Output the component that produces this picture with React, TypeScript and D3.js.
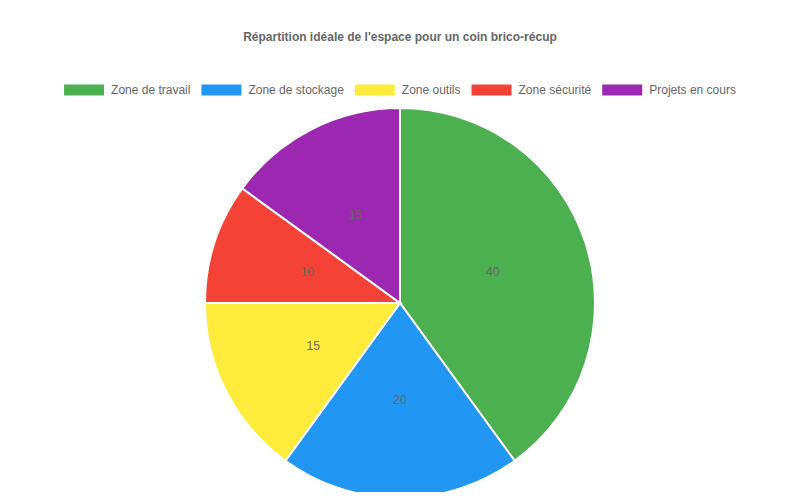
import * as React from 'react';
import * as d3 from 'd3';

const categories = ['Zone de travail', 'Zone de stockage', 'Zone outils', 'Zone sécurité', 'Projets en cours'];
const values = [40, 20, 15, 10, 15];
const colors = ['#4CAF50', '#2196F3', '#FFEB3B', '#F44336', '#9C27B0'];
const title = "Répartition idéale de l'espace pour un coin brico-récup";

const FONT = '"Liberation Sans", Arial, Helvetica, sans-serif';

function measure(text: string, font: string): number {
  const canvas = document.createElement('canvas');
  const ctx = canvas.getContext('2d');
  if (!ctx) return text.length * 6;
  ctx.font = font;
  return ctx.measureText(text).width;
}

export default function App() {
  const width = 800;
  const height = 500;
  const cx = 400;
  const cy = 303;
  const radius = 195;

  const pie = d3.pie<number>().sort(null).value((d) => d);
  const arcs = pie(values);
  const arc = d3.arc<d3.PieArcDatum<number>>().innerRadius(0).outerRadius(radius);

  // legend layout, chart.js style: box 40 wide, text after it
  const boxW = 40;
  const textOff = 7;
  const items = categories.map((c) => boxW + textOff + measure(c, `12px ${FONT}`));
  const gap = 11;
  const total = d3.sum(items) + gap * (items.length - 1);
  let lx = width / 2 - total / 2;
  const legendX = items.map((w) => {
    const x = lx;
    lx += w + gap;
    return x;
  });
  const legendY = 90;

  return (
    <svg width={width} height={height} style={{ display: 'block', margin: -8 }} fontFamily={FONT}>
      <text x={width / 2} y={37.5} textAnchor="middle" dominantBaseline="middle" fontSize={12} fontWeight="bold" fill="#666">
        {title}
      </text>
      <g>
        {categories.map((c, i) => (
          <g key={c} transform={`translate(${legendX[i]},${legendY})`}>
            <rect x={0} y={-5.5} width={boxW} height={11} fill={colors[i]} />
            <text x={boxW + textOff} y={0.5} dominantBaseline="middle" fontSize={12} fill="#666">
              {c}
            </text>
          </g>
        ))}
      </g>
      <g transform={`translate(${cx},${cy})`}>
        {arcs.map((a, i) => (
          <path key={i} d={arc(a) || ''} fill={colors[i]} stroke="#fff" strokeWidth={2} />
        ))}
        {arcs.map((a, i) => {
          const [x, y] = arc.centroid(a);
          return (
            <text key={`l${i}`} x={x} y={y} textAnchor="middle" dominantBaseline="middle" fontSize={12} fill="#666">
              {values[i]}
            </text>
          );
        })}
      </g>
    </svg>
  );
}
